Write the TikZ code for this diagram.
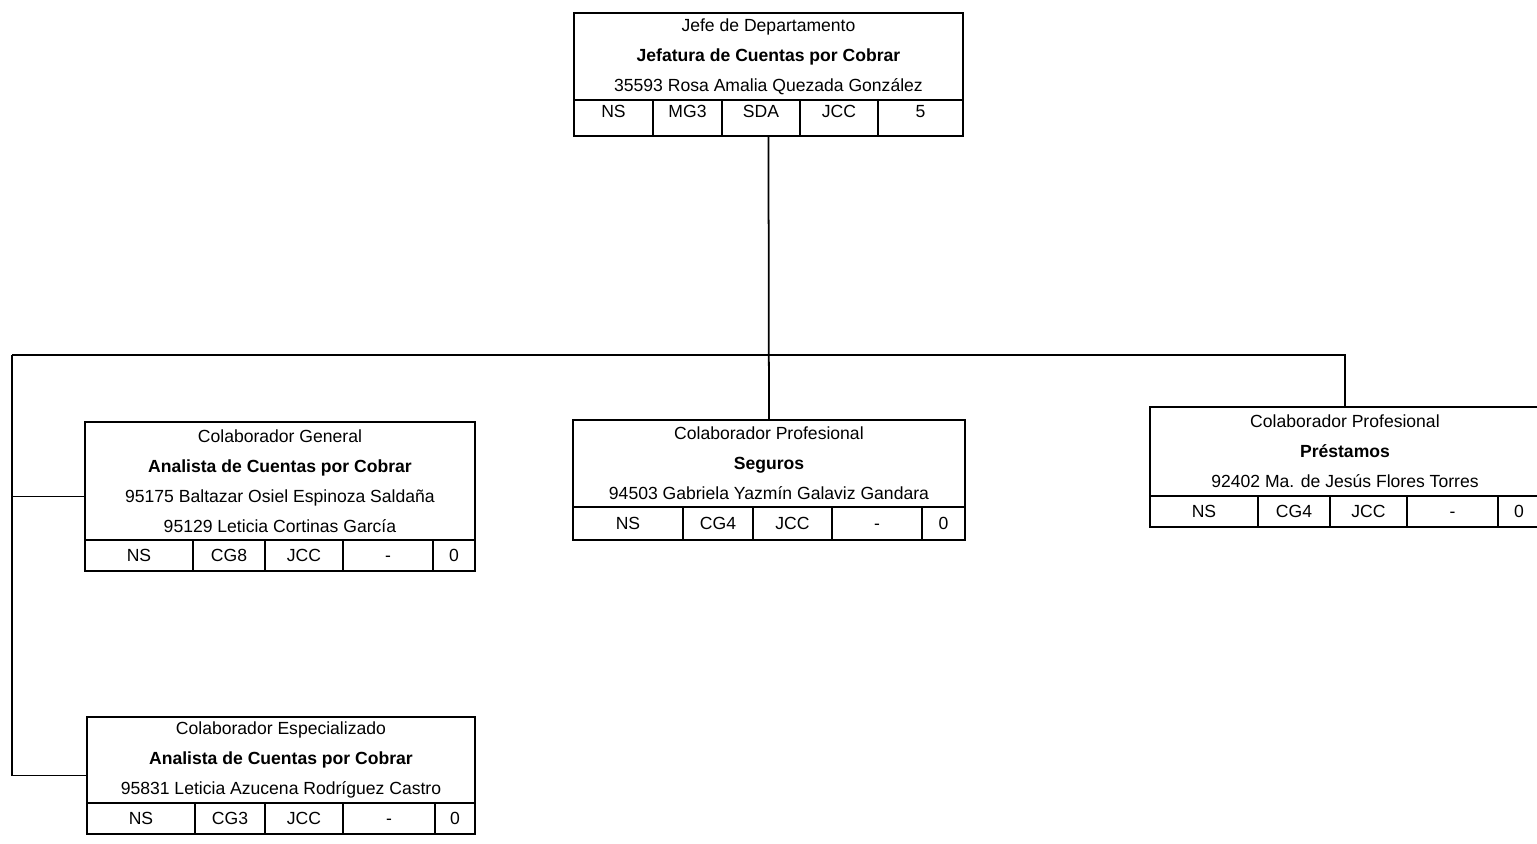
\documentclass[tikz,border=0pt]{standalone}
\usepackage{fontspec}
\setmainfont{Liberation Sans}
\usetikzlibrary{calc}
\tikzset{
    caja/.style={rectangle, draw, line width=1pt, outer sep=0pt, inner sep=0pt, align=center, anchor=north west, font=\fontsize{10}{17}\selectfont},
    celda/.style={rectangle, draw, line width=1pt, outer sep=0pt, inner sep=0pt, anchor=north west, text height=7pt, text depth=0pt, font=\fontsize{10}{12}\selectfont},
    linea/.style={line width=1pt}
}
% fila de celdas bajo una caja: #1 caja, #2 opciones, #3 ancho/texto
\newcommand{\fila}[3]{%
    \foreach \ancho/\texto [count=\i, remember=\i as \j (initially 0)] in {#3}{%
        \ifnum\i=1
            \node[celda, #2, minimum width=\ancho cm] (#1-\i) at (#1.south west) {\texto};
        \else
            \node[celda, #2, minimum width=\ancho cm] (#1-\i) at (#1-\j.north east) {\texto};
        \fi
    }%
}

\begin{document}
\begin{tikzpicture}[x=0.02cm, y=-0.02cm]
    \useasboundingbox (0,0) rectangle (1537,843);

    % Jefe de Departamento
    \node[caja, minimum width=7.78cm, minimum height=1.74cm] (jefe) at (574,13)
        {Jefe de Departamento\\ \textbf{Jefatura de Cuentas por Cobrar}\\ 35593 Rosa Amalia Quezada González};
    \fila{jefe}{minimum height=0.72cm, text depth=7pt}{1.58/NS, 1.38/MG3, 1.56/SDA, 1.56/JCC, 1.70/5}

    % Colaborador General
    \node[caja, minimum width=7.8cm, minimum height=2.36cm] (gen) at (85,422)
        {Colaborador General\\ \textbf{Analista de Cuentas por Cobrar}\\ 95175 Baltazar Osiel Espinoza Saldaña\\ 95129 Leticia Cortinas García};
    \fila{gen}{minimum height=0.62cm}{2.16/NS, 1.44/CG8, 1.56/JCC, 1.80/-, 0.84/0}

    % Colaborador Especializado
    \node[caja, minimum width=7.76cm, minimum height=1.72cm] (esp) at (87,717)
        {Colaborador Especializado\\ \textbf{Analista de Cuentas por Cobrar}\\ 95831 Leticia Azucena Rodríguez Castro};
    \fila{esp}{minimum height=0.62cm}{2.16/NS, 1.40/CG3, 1.56/JCC, 1.84/-, 0.80/0}

    % Seguros
    \node[caja, minimum width=7.84cm, minimum height=1.74cm] (seg) at (573,420)
        {Colaborador Profesional\\ \textbf{Seguros}\\ 94503 Gabriela Yazmín Galaviz Gandara};
    \fila{seg}{minimum height=0.66cm}{2.20/NS, 1.40/CG4, 1.58/JCC, 1.80/-, 0.86/0}

    % Prestamos
    \node[caja, minimum width=7.8cm, minimum height=1.78cm] (pre) at (1150,407)
        {Colaborador Profesional\\ \textbf{Préstamos}\\ 92402 Ma. de Jesús Flores Torres};
    \fila{pre}{minimum height=0.62cm}{2.16/NS, 1.44/CG4, 1.54/JCC, 1.82/-, 0.84/0}

    % conexiones
    \coordinate (bus) at (12,355);
    \coordinate (genc) at ($(gen.north west)!0.5!(gen-1.south west)$);
    \coordinate (espc) at ($(esp.north west)!0.5!(esp-1.south west)$);
    \draw[linea] (jefe.south |- jefe-1.south) -- (seg.north);
    \draw[linea] (bus) -| (pre.north);
    \draw[linea] (bus) |- (espc);
    \draw[linea] (bus |- genc) -- (genc);
\end{tikzpicture}
\end{document}
